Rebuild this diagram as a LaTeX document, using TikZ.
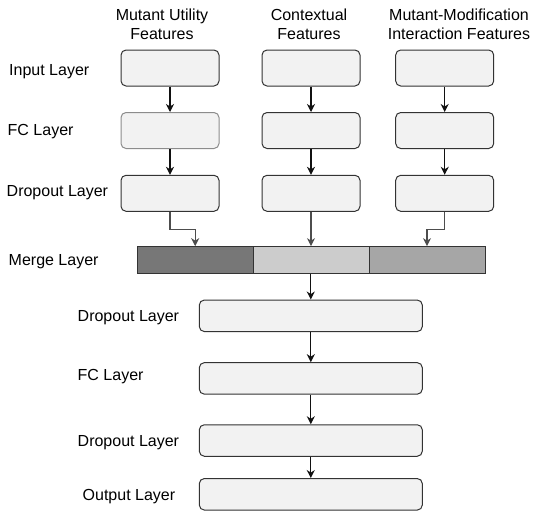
\documentclass[tikz,border=0pt]{standalone}
\usepackage{fontspec}
\setmainfont{Liberation Sans}
\usetikzlibrary{arrows.meta}
\definecolor{boxfill}{HTML}{F2F2F2}
\definecolor{boxline}{HTML}{333333}
\definecolor{boxlight}{HTML}{8C8C8C}
\definecolor{mdark}{HTML}{777777}
\definecolor{mlight}{HTML}{CCCCCC}
\definecolor{mmid}{HTML}{A6A6A6}
\definecolor{arrline}{HTML}{111111}
\definecolor{arrgray}{HTML}{4D4D4D}
\begin{document}
\begin{tikzpicture}[x=1pt,y=-1pt,
  every node/.style={font=\fontsize{16}{19.3}\selectfont, inner sep=0pt},
  colbox/.style={draw=boxline, fill=boxfill, rounded corners=5pt, line width=1pt,
    minimum width=98pt, minimum height=36pt},
  widebox/.style={draw=boxline, fill=boxfill, rounded corners=5pt, line width=1pt,
    minimum width=223pt, minimum height=31.5pt},
  mergebox/.style={draw=boxline, line width=1pt, minimum width=116pt, minimum height=26.7pt},
  arr/.style={draw=arrline, line width=1.2pt, -{Stealth[length=8pt,width=8pt,inset=2.5pt]}},
  arrg/.style={draw=arrgray, line width=1.2pt, -{Stealth[length=8pt,width=8pt,inset=2.5pt]}},
  lbl/.style={anchor=base west},
  hdr/.style={anchor=north, align=center}
]
\useasboundingbox (0,0) rectangle (533,512);

% headers
\node[hdr] (h1) at (162,8.3) {Mutant Utility\\Features};
\node[hdr] (h2) at (309,8.3) {Contextual\\Features};
\node[hdr] (h3) at (459,8.6) {Mutant-Modification\\Interaction Features};

% left labels
\node[lbl] (lin) at (9,75.5) {Input Layer};
\node[lbl] (lfc) at (7.5,135.5) {FC Layer};
\node[lbl] (ldr) at (6.5,196.5) {Dropout Layer};
\node[lbl] (lme) at (8.5,265.5) {Merge Layer};
\node[lbl] (ldr2) at (77.5,321.5) {Dropout Layer};
\node[lbl] (lfc2) at (77.5,380.5) {FC Layer};
\node[lbl] (ldr3) at (77.5,446) {Dropout Layer};
\node[lbl] (lout) at (82.5,500.5) {Output Layer};

% column boxes
\node[colbox] (i1) at (170,68) {};
\node[colbox] (i2) at (311,68) {};
\node[colbox] (i3) at (444.7,68) {};
\node[colbox, draw=boxlight] (f1) at (170,130.5) {};
\node[colbox] (f2) at (311,130.5) {};
\node[colbox] (f3) at (444.7,130.5) {};
\node[colbox] (d1) at (170,193.3) {};
\node[colbox] (d2) at (311,193.3) {};
\node[colbox] (d3) at (444.7,193.3) {};

% merge bar
\node[mergebox, fill=mdark] (m1) at (195.2,260) {};
\node[mergebox, fill=mlight] (m2) at (311.2,260) {};
\node[mergebox, fill=mmid] (m3) at (427,260) {};

% bottom boxes
\node[widebox] (b1) at (310.8,315.8) {};
\node[widebox] (b2) at (310.8,378.4) {};
\node[widebox] (b3) at (310.8,440.5) {};
\node[widebox] (b4) at (310.8,494.3) {};

% connectors
\draw[arr] (i1) -- (f1);
\draw[arr] (i2) -- (f2);
\draw[arr] (i3) -- (f3);
\draw[arr] (f1) -- (d1);
\draw[arr] (f2) -- (d2);
\draw[arr] (f3) -- (d3);
\draw[arrg] (d1.south) -- ++(0,17.3) -| (m1.north);
\draw[arrg] (d2.south) -- (d2.south |- m2.north);
\draw[arrg] (d3.south) -- ++(0,17.3) -| (m3.north);
\draw[arr] (m2.south -| b1.north) -- (b1.north);
\draw[arr] (b1) -- (b2);
\draw[arr] (b2) -- (b3);
\draw[arr] (b3) -- (b4);
\end{tikzpicture}
\end{document}
